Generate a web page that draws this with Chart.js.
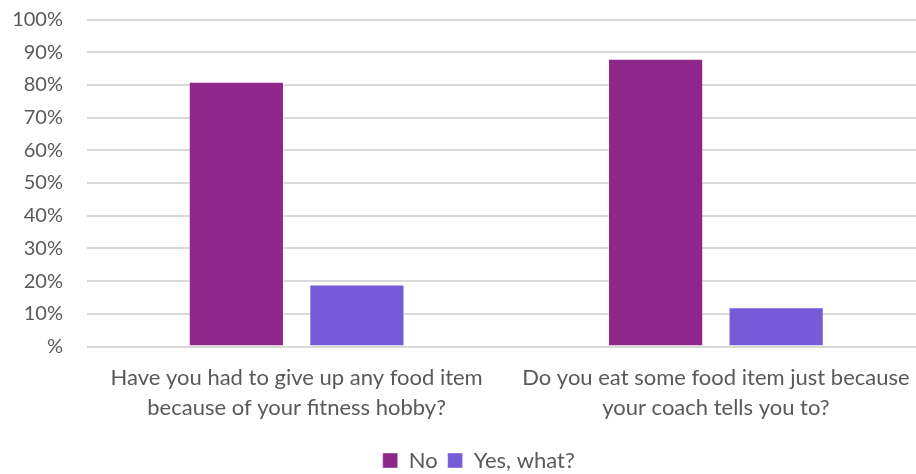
<!DOCTYPE html>
<html>
<head>
<meta charset="utf-8">
<script src="https://cdn.jsdelivr.net/npm/chart.js@4"></script>
<style>
  html, body { margin: 0; padding: 0; background: #fff; overflow: hidden; }
  #wrap { width: 958px; height: 474px; }
</style>
</head>
<body>
<div id="wrap"><canvas id="myChart" width="958" height="474"></canvas></div>
<script>
const questions = [
    ['Have you had to give up any food item', 'because of your fitness hobby?'],
    ['Do you eat some food item just because', 'your coach tells you to?']
];
const noValues = [81, 88];
const yesValues = [19, 12];
const seriesNames = ['No', 'Yes, what?'];

const textColor = '#595959';

// the legend in the original sits a bit right of the canvas middle
const nudgeLegend = {
    id: 'nudgeLegend',
    afterLayout(chart) {
        chart.legend.left += 16;
        chart.legend.right += 16;
    }
};

const ctx = document.getElementById('myChart').getContext('2d');
const myChart = new Chart(ctx, {
    type: 'bar',
    data: {
        labels: questions,
        datasets: [{
            label: seriesNames[0],
            data: noValues,
            backgroundColor: 'rgb(143, 39, 139)',
            borderColor: 'rgba(255, 255, 255, 0.4)',
            borderWidth: 1
        }, {
            label: seriesNames[1],
            data: yesValues,
            backgroundColor: 'rgb(117, 91, 216)',
            borderColor: 'rgba(255, 255, 255, 0.4)',
            borderWidth: 1
        }]
    },
    plugins: [nudgeLegend],
    options: {
        responsive: false,
        animation: false,
        categoryPercentage: 0.575,
        barPercentage: 0.79,
        layout: {
            padding: { top: 19.5, right: 32.5, bottom: -7.5, left: 0 }
        },
        plugins: {
            tooltip: { enabled: false },
            legend: {
                position: 'bottom',
                labels: {
                    color: textColor,
                    font: { family: 'Lato', size: 22 },
                    boxWidth: 15,
                    boxHeight: 15,
                    padding: 10
                }
            }
        },
        scales: {
            x: {
                grid: { display: false, drawTicks: false },
                border: { display: false },
                ticks: {
                    color: textColor,
                    font: { family: 'Lato', size: 22, lineHeight: 1.34 },
                    padding: 17,
                    maxRotation: 0
                }
            },
            y: {
                min: 0,
                max: 100,
                afterFit: (scale) => { scale.width = 87; },
                grid: {
                    color: '#d9d9d9',
                    lineWidth: 2,
                    drawTicks: true,
                    tickLength: 24,
                    tickColor: 'rgba(0,0,0,0)'
                },
                border: { display: false },
                ticks: {
                    stepSize: 10,
                    color: textColor,
                    font: { family: 'Lato', size: 20 },
                    padding: 0,
                    callback: (v) => v === 0 ? '%' : v + '%'
                }
            }
        }
    }
});
</script>
</body>
</html>
